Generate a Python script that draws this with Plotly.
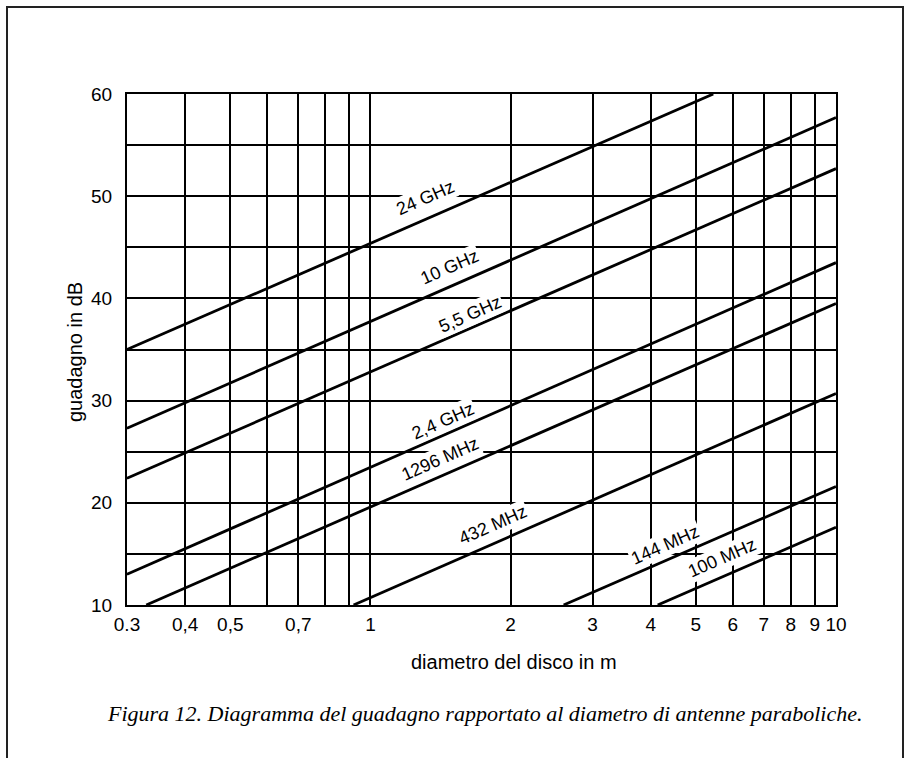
import plotly.graph_objects as go
import math

# --- data (diameter in m, gain in dB at line ends) ---
labels = ["24 GHz", "10 GHz", "5,5 GHz", "2,4 GHz", "1296 MHz", "432 MHz", "144 MHz", "100 MHz"]
d_start = [0.3, 0.3, 0.3, 0.3, 0.33, 0.92, 2.6, 4.14]
g_start = [35.0, 27.3, 22.4, 13.0, 10.0, 10.0, 10.0, 10.0]
d_end = [5.45, 10, 10, 10, 10, 10, 10, 10]
g_end = [60.0, 57.7, 52.7, 43.5, 39.5, 30.7, 21.6, 17.6]
label_d = [1.31, 1.48, 1.64, 1.43, 1.41, 1.83, 4.29, 5.68]
label_g = [49.8, 43.1, 38.5, 28.0, 24.3, 17.8, 15.9, 14.6]

x_tickvals = [0.3, 0.4, 0.5, 0.6, 0.7, 0.8, 0.9, 1, 2, 3, 4, 5, 6, 7, 8, 9, 10]
x_ticktext = ["0.3", "0,4", "0,5", "", "0,7", "", "", "1", "2", "3", "4", "5", "6", "7", "8", "9", "10"]
y_tickvals = [10, 15, 20, 25, 30, 35, 40, 45, 50, 55, 60]
y_ticktext = ["10", "", "20", "", "30", "", "40", "", "50", "", "60"]

x_title = "diametro del disco in m"
y_title = "guadagno in dB"
caption = "Figura 12. Diagramma del guadagno rapportato al diametro di antenne paraboliche."

W, H = 909, 758
L, R, T, B = 127, 836, 94, 605
pw, ph = R - L, B - T

def px(x):
    return (x - L) / pw

def py(y):
    return (B - y) / ph

fig = go.Figure()
for i, name in enumerate(labels):
    fig.add_trace(go.Scatter(
        x=[d_start[i], d_end[i]], y=[g_start[i], g_end[i]],
        mode="lines", line=dict(color="black", width=2.8),
        name=name, showlegend=False, hoverinfo="skip"))

font = "Liberation Sans, Arial, Helvetica, sans-serif"
for i, name in enumerate(labels):
    fig.add_annotation(
        x=math.log10(label_d[i]), y=label_g[i], xref="x", yref="y",
        text=name, showarrow=False, textangle=-23.7,
        xanchor="center", yanchor="middle",
        font=dict(family=font, size=18, color="black"),
        bgcolor="white", borderpad=1)

fig.add_annotation(x=px(514), y=py(662), xref="paper", yref="paper",
                   text=x_title, showarrow=False, xanchor="center", yanchor="middle",
                   font=dict(family=font, size=20, color="black"))
fig.add_annotation(x=px(75), y=py(352), xref="paper", yref="paper",
                   text=y_title, showarrow=False, textangle=-90,
                   xanchor="center", yanchor="middle",
                   font=dict(family=font, size=20, color="black"))
fig.add_annotation(x=px(484), y=py(713), xref="paper", yref="paper",
                   text="<i>" + caption + "</i>", showarrow=False,
                   xanchor="center", yanchor="middle",
                   font=dict(family="Liberation Serif, DejaVu Serif, serif", size=22, color="black"))

# outer frame
fig.add_shape(type="rect", xref="paper", yref="paper",
              x0=px(7), x1=px(903), y0=py(7), y1=py(790),
              line=dict(color="#222", width=2), fillcolor="rgba(0,0,0,0)", layer="below")

fig.update_xaxes(type="log", range=[math.log10(0.3), 1],
                 tickvals=x_tickvals, ticktext=x_ticktext,
                 showgrid=True, gridcolor="black", gridwidth=1.6,
                 showline=True, linecolor="black", linewidth=2, mirror=True,
                 ticks="", ticklabelstandoff=1,
                 tickfont=dict(family=font, size=19, color="black"), zeroline=False)
fig.update_yaxes(range=[10, 60], tickvals=y_tickvals, ticktext=y_ticktext,
                 showgrid=True, gridcolor="black", gridwidth=1.6,
                 showline=True, linecolor="black", linewidth=2, mirror=True,
                 ticks="", ticklabelstandoff=9,
                 tickfont=dict(family=font, size=19, color="black"), zeroline=False)

fig.update_layout(width=W, height=H,
                  margin=dict(l=L, r=W - R, t=T, b=H - B),
                  paper_bgcolor="white", plot_bgcolor="white")

fig.write_html("out.html", config={"displayModeBar": False},
               post_script="document.body.style.margin='0';")
